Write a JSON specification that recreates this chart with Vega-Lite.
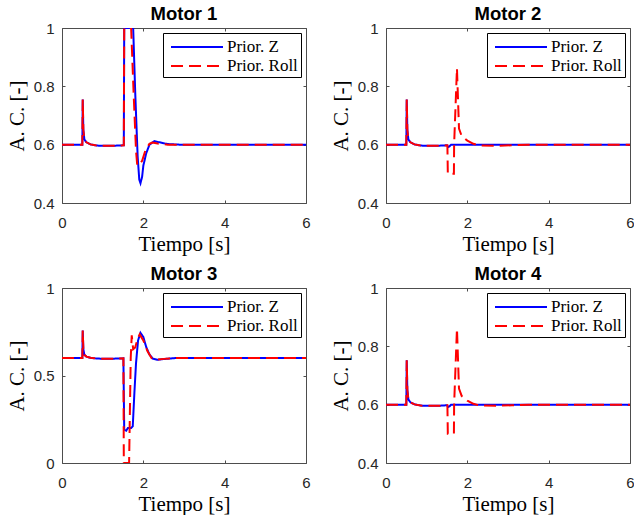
{
  "$schema": "https://vega.github.io/schema/vega-lite/v6.json",
  "background": "white",
  "padding": {"left": 5, "top": 4, "right": 3, "bottom": 0},
  "config": {
    "view": {"stroke": "#4d4d4d", "strokeWidth": 1},
    "title": {"font": "Liberation Sans", "fontSize": 18.5, "fontWeight": "bold", "color": "black", "offset": -2},
    "axis": {
      "grid": false, "domain": false, "labelFlush": false, "labelOverlap": false,
      "labelFont": "Liberation Sans", "labelFontSize": 15, "labelColor": "#262626",
      "tickColor": "#4d4d4d", "tickSize": -3,
      "titleFont": "Liberation Serif", "titleFontSize": 21, "titleFontWeight": "normal", "titleColor": "black"
    },
    "axisY": {"labelPadding": 11, "titlePadding": 6},
    "axisX": {"labelPadding": 15, "titlePadding": 3},
    "legend": {
      "orient": "top-right", "offset": 5, "fillColor": "white", "strokeColor": "black", "padding": 3,
      "labelFont": "Liberation Serif", "labelFontSize": 17, "labelColor": "black", "labelOffset": 19,
      "symbolType": "M-2.6,0H2.6", "symbolSize": 400, "symbolStrokeWidth": 2, "symbolOffset": 20, "rowPadding": -1
    }
  },
  "datasets": {
    "m1": [
      {"t":0,"v":0.6,"s":"Prior. Z"},{"t":0.5,"v":0.6,"s":"Prior. Z"},{"t":0.51,"v":0.755,"s":"Prior. Z"},{"t":0.525,"v":0.65,"s":"Prior. Z"},{"t":0.55,"v":0.618,"s":"Prior. Z"},{"t":0.6,"v":0.608,"s":"Prior. Z"},{"t":0.7,"v":0.601,"s":"Prior. Z"},{"t":0.85,"v":0.597,"s":"Prior. Z"},{"t":1.0,"v":0.596,"s":"Prior. Z"},{"t":1.2,"v":0.596,"s":"Prior. Z"},{"t":1.4,"v":0.597,"s":"Prior. Z"},{"t":1.52,"v":0.598,"s":"Prior. Z"},{"t":1.53,"v":1.0,"s":"Prior. Z"},{"t":1.75,"v":1.0,"s":"Prior. Z"},{"t":1.8,"v":0.78,"s":"Prior. Z"},{"t":1.86,"v":0.56,"s":"Prior. Z"},{"t":1.9,"v":0.48,"s":"Prior. Z"},{"t":1.93,"v":0.468,"s":"Prior. Z"},{"t":1.97,"v":0.49,"s":"Prior. Z"},{"t":2.0,"v":0.528,"s":"Prior. Z"},{"t":2.07,"v":0.57,"s":"Prior. Z"},{"t":2.15,"v":0.6,"s":"Prior. Z"},{"t":2.27,"v":0.612,"s":"Prior. Z"},{"t":2.4,"v":0.608,"s":"Prior. Z"},{"t":2.6,"v":0.602,"s":"Prior. Z"},{"t":2.9,"v":0.6,"s":"Prior. Z"},{"t":6,"v":0.6,"s":"Prior. Z"},
      {"t":0,"v":0.6,"s":"Prior. Roll"},{"t":0.5,"v":0.6,"s":"Prior. Roll"},{"t":0.51,"v":0.755,"s":"Prior. Roll"},{"t":0.525,"v":0.65,"s":"Prior. Roll"},{"t":0.55,"v":0.618,"s":"Prior. Roll"},{"t":0.6,"v":0.608,"s":"Prior. Roll"},{"t":0.7,"v":0.601,"s":"Prior. Roll"},{"t":0.85,"v":0.597,"s":"Prior. Roll"},{"t":1.0,"v":0.596,"s":"Prior. Roll"},{"t":1.2,"v":0.596,"s":"Prior. Roll"},{"t":1.4,"v":0.597,"s":"Prior. Roll"},{"t":1.52,"v":0.598,"s":"Prior. Roll"},{"t":1.53,"v":1.0,"s":"Prior. Roll"},{"t":1.7,"v":1.0,"s":"Prior. Roll"},{"t":1.76,"v":0.78,"s":"Prior. Roll"},{"t":1.82,"v":0.58,"s":"Prior. Roll"},{"t":1.85,"v":0.53,"s":"Prior. Roll"},{"t":1.9,"v":0.53,"s":"Prior. Roll"},{"t":1.97,"v":0.545,"s":"Prior. Roll"},{"t":2.05,"v":0.58,"s":"Prior. Roll"},{"t":2.15,"v":0.603,"s":"Prior. Roll"},{"t":2.22,"v":0.607,"s":"Prior. Roll"},{"t":2.35,"v":0.604,"s":"Prior. Roll"},{"t":2.6,"v":0.6,"s":"Prior. Roll"},{"t":6,"v":0.6,"s":"Prior. Roll"}
    ],
    "m2": [
      {"t":0,"v":0.6,"s":"Prior. Z"},{"t":0.5,"v":0.6,"s":"Prior. Z"},{"t":0.51,"v":0.755,"s":"Prior. Z"},{"t":0.525,"v":0.65,"s":"Prior. Z"},{"t":0.55,"v":0.618,"s":"Prior. Z"},{"t":0.6,"v":0.608,"s":"Prior. Z"},{"t":0.7,"v":0.601,"s":"Prior. Z"},{"t":0.85,"v":0.597,"s":"Prior. Z"},{"t":1.0,"v":0.596,"s":"Prior. Z"},{"t":1.2,"v":0.596,"s":"Prior. Z"},{"t":1.4,"v":0.597,"s":"Prior. Z"},{"t":1.5,"v":0.598,"s":"Prior. Z"},{"t":1.53,"v":0.592,"s":"Prior. Z"},{"t":1.56,"v":0.594,"s":"Prior. Z"},{"t":1.6,"v":0.6,"s":"Prior. Z"},{"t":6,"v":0.6,"s":"Prior. Z"},
      {"t":0,"v":0.6,"s":"Prior. Roll"},{"t":0.5,"v":0.6,"s":"Prior. Roll"},{"t":0.51,"v":0.755,"s":"Prior. Roll"},{"t":0.525,"v":0.65,"s":"Prior. Roll"},{"t":0.55,"v":0.618,"s":"Prior. Roll"},{"t":0.6,"v":0.608,"s":"Prior. Roll"},{"t":0.7,"v":0.601,"s":"Prior. Roll"},{"t":0.85,"v":0.597,"s":"Prior. Roll"},{"t":1.0,"v":0.596,"s":"Prior. Roll"},{"t":1.2,"v":0.596,"s":"Prior. Roll"},{"t":1.4,"v":0.597,"s":"Prior. Roll"},{"t":1.51,"v":0.598,"s":"Prior. Roll"},{"t":1.52,"v":0.5,"s":"Prior. Roll"},{"t":1.67,"v":0.5,"s":"Prior. Roll"},{"t":1.675,"v":0.6,"s":"Prior. Roll"},{"t":1.745,"v":0.862,"s":"Prior. Roll"},{"t":1.795,"v":0.655,"s":"Prior. Roll"},{"t":1.86,"v":0.63,"s":"Prior. Roll"},{"t":2.0,"v":0.614,"s":"Prior. Roll"},{"t":2.15,"v":0.603,"s":"Prior. Roll"},{"t":2.3,"v":0.597,"s":"Prior. Roll"},{"t":2.7,"v":0.596,"s":"Prior. Roll"},{"t":3.1,"v":0.598,"s":"Prior. Roll"},{"t":3.5,"v":0.6,"s":"Prior. Roll"},{"t":6,"v":0.6,"s":"Prior. Roll"}
    ],
    "m3": [
      {"t":0,"v":0.6,"s":"Prior. Z"},{"t":0.5,"v":0.6,"s":"Prior. Z"},{"t":0.51,"v":0.757,"s":"Prior. Z"},{"t":0.525,"v":0.65,"s":"Prior. Z"},{"t":0.55,"v":0.618,"s":"Prior. Z"},{"t":0.6,"v":0.608,"s":"Prior. Z"},{"t":0.7,"v":0.601,"s":"Prior. Z"},{"t":0.85,"v":0.597,"s":"Prior. Z"},{"t":1.0,"v":0.596,"s":"Prior. Z"},{"t":1.2,"v":0.596,"s":"Prior. Z"},{"t":1.4,"v":0.597,"s":"Prior. Z"},{"t":1.51,"v":0.598,"s":"Prior. Z"},{"t":1.53,"v":0.19,"s":"Prior. Z"},{"t":1.58,"v":0.185,"s":"Prior. Z"},{"t":1.62,"v":0.2,"s":"Prior. Z"},{"t":1.7,"v":0.2,"s":"Prior. Z"},{"t":1.74,"v":0.21,"s":"Prior. Z"},{"t":1.78,"v":0.4,"s":"Prior. Z"},{"t":1.82,"v":0.57,"s":"Prior. Z"},{"t":1.87,"v":0.7,"s":"Prior. Z"},{"t":1.93,"v":0.744,"s":"Prior. Z"},{"t":2.0,"v":0.72,"s":"Prior. Z"},{"t":2.07,"v":0.663,"s":"Prior. Z"},{"t":2.15,"v":0.62,"s":"Prior. Z"},{"t":2.23,"v":0.597,"s":"Prior. Z"},{"t":2.35,"v":0.59,"s":"Prior. Z"},{"t":2.5,"v":0.594,"s":"Prior. Z"},{"t":2.8,"v":0.6,"s":"Prior. Z"},{"t":6,"v":0.6,"s":"Prior. Z"},
      {"t":0,"v":0.6,"s":"Prior. Roll"},{"t":0.5,"v":0.6,"s":"Prior. Roll"},{"t":0.51,"v":0.757,"s":"Prior. Roll"},{"t":0.525,"v":0.65,"s":"Prior. Roll"},{"t":0.55,"v":0.618,"s":"Prior. Roll"},{"t":0.6,"v":0.608,"s":"Prior. Roll"},{"t":0.7,"v":0.601,"s":"Prior. Roll"},{"t":0.85,"v":0.597,"s":"Prior. Roll"},{"t":1.0,"v":0.596,"s":"Prior. Roll"},{"t":1.2,"v":0.596,"s":"Prior. Roll"},{"t":1.4,"v":0.597,"s":"Prior. Roll"},{"t":1.51,"v":0.598,"s":"Prior. Roll"},{"t":1.52,"v":0.0,"s":"Prior. Roll"},{"t":1.65,"v":0.0,"s":"Prior. Roll"},{"t":1.69,"v":0.6,"s":"Prior. Roll"},{"t":1.715,"v":0.73,"s":"Prior. Roll"},{"t":1.75,"v":0.65,"s":"Prior. Roll"},{"t":1.8,"v":0.66,"s":"Prior. Roll"},{"t":1.86,"v":0.71,"s":"Prior. Roll"},{"t":1.91,"v":0.735,"s":"Prior. Roll"},{"t":2.0,"v":0.7,"s":"Prior. Roll"},{"t":2.1,"v":0.64,"s":"Prior. Roll"},{"t":2.2,"v":0.6,"s":"Prior. Roll"},{"t":2.3,"v":0.59,"s":"Prior. Roll"},{"t":2.5,"v":0.595,"s":"Prior. Roll"},{"t":2.8,"v":0.6,"s":"Prior. Roll"},{"t":6,"v":0.6,"s":"Prior. Roll"}
    ],
    "m4": [
      {"t":0,"v":0.6,"s":"Prior. Z"},{"t":0.5,"v":0.6,"s":"Prior. Z"},{"t":0.51,"v":0.752,"s":"Prior. Z"},{"t":0.525,"v":0.65,"s":"Prior. Z"},{"t":0.55,"v":0.618,"s":"Prior. Z"},{"t":0.6,"v":0.608,"s":"Prior. Z"},{"t":0.7,"v":0.601,"s":"Prior. Z"},{"t":0.85,"v":0.597,"s":"Prior. Z"},{"t":1.0,"v":0.596,"s":"Prior. Z"},{"t":1.2,"v":0.596,"s":"Prior. Z"},{"t":1.4,"v":0.597,"s":"Prior. Z"},{"t":1.5,"v":0.598,"s":"Prior. Z"},{"t":1.53,"v":0.592,"s":"Prior. Z"},{"t":1.56,"v":0.594,"s":"Prior. Z"},{"t":1.6,"v":0.6,"s":"Prior. Z"},{"t":6,"v":0.6,"s":"Prior. Z"},
      {"t":0,"v":0.6,"s":"Prior. Roll"},{"t":0.5,"v":0.6,"s":"Prior. Roll"},{"t":0.51,"v":0.752,"s":"Prior. Roll"},{"t":0.525,"v":0.65,"s":"Prior. Roll"},{"t":0.55,"v":0.618,"s":"Prior. Roll"},{"t":0.6,"v":0.608,"s":"Prior. Roll"},{"t":0.7,"v":0.601,"s":"Prior. Roll"},{"t":0.85,"v":0.597,"s":"Prior. Roll"},{"t":1.0,"v":0.596,"s":"Prior. Roll"},{"t":1.2,"v":0.596,"s":"Prior. Roll"},{"t":1.4,"v":0.597,"s":"Prior. Roll"},{"t":1.51,"v":0.598,"s":"Prior. Roll"},{"t":1.52,"v":0.5,"s":"Prior. Roll"},{"t":1.67,"v":0.5,"s":"Prior. Roll"},{"t":1.675,"v":0.6,"s":"Prior. Roll"},{"t":1.745,"v":0.861,"s":"Prior. Roll"},{"t":1.795,"v":0.655,"s":"Prior. Roll"},{"t":1.86,"v":0.63,"s":"Prior. Roll"},{"t":2.0,"v":0.614,"s":"Prior. Roll"},{"t":2.15,"v":0.603,"s":"Prior. Roll"},{"t":2.3,"v":0.597,"s":"Prior. Roll"},{"t":2.7,"v":0.596,"s":"Prior. Roll"},{"t":3.1,"v":0.598,"s":"Prior. Roll"},{"t":3.5,"v":0.6,"s":"Prior. Roll"},{"t":6,"v":0.6,"s":"Prior. Roll"}
    ]
  },
  "resolve": {"scale": {"color": "independent", "strokeDash": "independent"}, "legend": {"color": "independent", "strokeDash": "independent"}},
  "spacing": 9,
  "vconcat": [
    {
      "spacing": 18,
      "resolve": {"scale": {"color": "independent", "strokeDash": "independent"}, "legend": {"color": "independent", "strokeDash": "independent"}},
      "hconcat": [
        {
          "title": "Motor 1", "width": 244, "height": 175, "data": {"name": "m1"},
          "layer": [
            {"mark": {"type": "line", "strokeWidth": 2, "clip": true},
             "encoding": {
               "x": {"field": "t", "type": "quantitative", "scale": {"domain": [0, 6]}, "axis": {"title": "Tiempo [s]", "values": [0, 2, 4, 6]}},
               "y": {"field": "v", "type": "quantitative", "scale": {"domain": [0.4, 1]}, "axis": {"title": "A. C. [-]", "values": [0.4, 0.6, 0.8, 1], "format": "~g"}},
               "color": {"field": "s", "type": "nominal", "scale": {"domain": ["Prior. Z", "Prior. Roll"], "range": ["#0000ff", "#ff0000"]}, "legend": {"title": null, "labelFont": "Liberation Serif"}},
               "strokeDash": {"field": "s", "type": "nominal", "scale": {"domain": ["Prior. Z", "Prior. Roll"], "range": [[1, 0], [12, 6]]}, "legend": {"title": null, "labelFont": "Liberation Serif"}}
             }},
            {"mark": {"type": "line", "opacity": 0},
             "encoding": {
               "x": {"field": "t", "type": "quantitative", "axis": {"orient": "top", "labels": false, "title": null, "values": [0, 2, 4, 6]}},
               "y": {"field": "v", "type": "quantitative", "axis": {"orient": "right", "labels": false, "title": null, "values": [0.4, 0.6, 0.8, 1]}}
             }}
          ],
          "resolve": {"axis": {"x": "independent", "y": "independent"}}
        },
        {
          "title": "Motor 2", "width": 244, "height": 175, "data": {"name": "m2"},
          "layer": [
            {"mark": {"type": "line", "strokeWidth": 2, "clip": true},
             "encoding": {
               "x": {"field": "t", "type": "quantitative", "scale": {"domain": [0, 6]}, "axis": {"title": "Tiempo [s]", "values": [0, 2, 4, 6]}},
               "y": {"field": "v", "type": "quantitative", "scale": {"domain": [0.4, 1]}, "axis": {"title": "A. C. [-]", "values": [0.4, 0.6, 0.8, 1], "format": "~g"}},
               "color": {"field": "s", "type": "nominal", "scale": {"domain": ["Prior. Z", "Prior. Roll"], "range": ["#0000ff", "#ff0000"]}, "legend": {"title": null, "labelFont": "Liberation Serif"}},
               "strokeDash": {"field": "s", "type": "nominal", "scale": {"domain": ["Prior. Z", "Prior. Roll"], "range": [[1, 0], [12, 6]]}, "legend": {"title": null, "labelFont": "Liberation Serif"}}
             }},
            {"mark": {"type": "line", "opacity": 0},
             "encoding": {
               "x": {"field": "t", "type": "quantitative", "axis": {"orient": "top", "labels": false, "title": null, "values": [0, 2, 4, 6]}},
               "y": {"field": "v", "type": "quantitative", "axis": {"orient": "right", "labels": false, "title": null, "values": [0.4, 0.6, 0.8, 1]}}
             }}
          ],
          "resolve": {"axis": {"x": "independent", "y": "independent"}}
        }
      ]
    },
    {
      "spacing": 18,
      "resolve": {"scale": {"color": "independent", "strokeDash": "independent"}, "legend": {"color": "independent", "strokeDash": "independent"}},
      "hconcat": [
        {
          "title": "Motor 3", "width": 244, "height": 175, "data": {"name": "m3"},
          "layer": [
            {"mark": {"type": "line", "strokeWidth": 2, "clip": true},
             "encoding": {
               "x": {"field": "t", "type": "quantitative", "scale": {"domain": [0, 6]}, "axis": {"title": "Tiempo [s]", "values": [0, 2, 4, 6]}},
               "y": {"field": "v", "type": "quantitative", "scale": {"domain": [0, 1]}, "axis": {"title": "A. C. [-]", "values": [0, 0.5, 1], "format": "~g"}},
               "color": {"field": "s", "type": "nominal", "scale": {"domain": ["Prior. Z", "Prior. Roll"], "range": ["#0000ff", "#ff0000"]}, "legend": {"title": null, "labelFont": "Liberation Serif"}},
               "strokeDash": {"field": "s", "type": "nominal", "scale": {"domain": ["Prior. Z", "Prior. Roll"], "range": [[1, 0], [12, 6]]}, "legend": {"title": null, "labelFont": "Liberation Serif"}}
             }},
            {"mark": {"type": "line", "opacity": 0},
             "encoding": {
               "x": {"field": "t", "type": "quantitative", "axis": {"orient": "top", "labels": false, "title": null, "values": [0, 2, 4, 6]}},
               "y": {"field": "v", "type": "quantitative", "axis": {"orient": "right", "labels": false, "title": null, "values": [0, 0.5, 1]}}
             }}
          ],
          "resolve": {"axis": {"x": "independent", "y": "independent"}}
        },
        {
          "title": "Motor 4", "width": 244, "height": 175, "data": {"name": "m4"},
          "layer": [
            {"mark": {"type": "line", "strokeWidth": 2, "clip": true},
             "encoding": {
               "x": {"field": "t", "type": "quantitative", "scale": {"domain": [0, 6]}, "axis": {"title": "Tiempo [s]", "values": [0, 2, 4, 6]}},
               "y": {"field": "v", "type": "quantitative", "scale": {"domain": [0.4, 1]}, "axis": {"title": "A. C. [-]", "values": [0.4, 0.6, 0.8, 1], "format": "~g"}},
               "color": {"field": "s", "type": "nominal", "scale": {"domain": ["Prior. Z", "Prior. Roll"], "range": ["#0000ff", "#ff0000"]}, "legend": {"title": null, "labelFont": "Liberation Serif"}},
               "strokeDash": {"field": "s", "type": "nominal", "scale": {"domain": ["Prior. Z", "Prior. Roll"], "range": [[1, 0], [12, 6]]}, "legend": {"title": null, "labelFont": "Liberation Serif"}}
             }},
            {"mark": {"type": "line", "opacity": 0},
             "encoding": {
               "x": {"field": "t", "type": "quantitative", "axis": {"orient": "top", "labels": false, "title": null, "values": [0, 2, 4, 6]}},
               "y": {"field": "v", "type": "quantitative", "axis": {"orient": "right", "labels": false, "title": null, "values": [0.4, 0.6, 0.8, 1]}}
             }}
          ],
          "resolve": {"axis": {"x": "independent", "y": "independent"}}
        }
      ]
    }
  ]
}
